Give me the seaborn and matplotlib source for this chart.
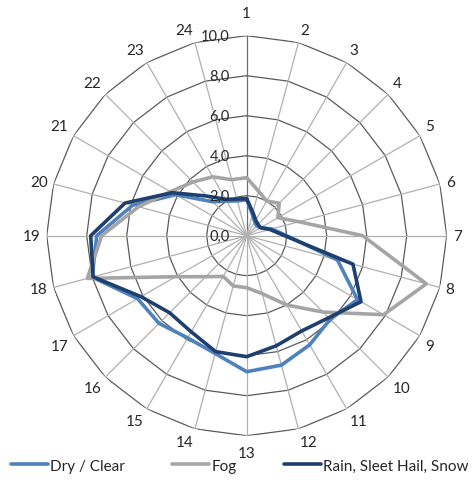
import numpy as np
import pandas as pd
import matplotlib
matplotlib.use("Agg")
import matplotlib.pyplot as plt
import matplotlib.transforms as mtransforms
import seaborn as sns

# hour of day (radar categories)
hours = [str(h) for h in range(1, 25)]

# share per hour
dry_clear = [1.8, 1.1, 0.8, 0.7, 0.8, 1.3, 2.0, 4.7, 6.4, 5.9, 6.3, 6.7,
             6.8, 6.1, 5.9, 6.2, 6.3, 8.0, 7.5, 5.9, 4.1, 2.4, 2.0, 1.8]
fog = [2.9, 2.3, 2.0, 2.3, 1.8, 2.7, 5.8, 9.3, 7.9, 5.4, 4.0, 3.0,
       2.6, 2.6, 2.35, 2.9, 4.1, 8.25, 7.25, 5.6, 4.4, 3.8, 3.4, 2.9]
rain = [1.85, 1.2, 0.9, 0.8, 0.8, 1.2, 1.9, 5.5, 6.6, 5.8, 5.5, 5.7,
        6.05, 6.0, 5.55, 5.45, 6.1, 7.95, 7.8, 6.3, 4.3, 2.8, 2.1, 1.9]

series_names = ["Dry / Clear", "Fog", "Rain, Sleet Hail, Snow"]
colors = ["#4f81bd", "#a5a5a5", "#1f3f6e"]
r_ticks = [0, 2, 4, 6, 8, 10]

sns.set_style("white")
plt.rcParams["font.family"] = ["Lato", "DejaVu Sans"]

n = len(hours)
theta = np.linspace(0, 2 * np.pi, n, endpoint=False)
theta_closed = np.append(theta, 2 * np.pi)

# long table, each series closed back to hour 1
rows = []
for name, vals in zip(series_names, [dry_clear, fog, rain]):
    vals_closed = list(vals) + [vals[0]]
    for t, v in zip(theta_closed, vals_closed):
        rows.append({"theta": t, "value": v, "series": name})
df = pd.DataFrame(rows)

fig = plt.figure(figsize=(4.72, 4.81), dpi=100)
cx, cy = 246.7 / 472, 1 - 236.7 / 481
rw, rh = 200 / 472, 200 / 481
ax = fig.add_axes([cx - rw, cy - rh, 2 * rw, 2 * rh], projection="polar")
ax.set_theta_offset(np.pi / 2)
ax.set_theta_direction(-1)
ax.set_ylim(0, 10)
ax.grid(False)
ax.spines["polar"].set_visible(False)

# polygon rings and spokes
for r in r_ticks[1:]:
    ax.plot(theta_closed, [r] * (n + 1), color="#5a5a5a", lw=0.9, zorder=1)
for i, t in enumerate(theta):
    ax.plot([t, t], [0, 10], color="#6e6e6e" if i == 0 else "#b0b0b0",
            lw=0.9, zorder=1)

sns.lineplot(data=df, x="theta", y="value", hue="series", palette=colors,
             hue_order=series_names, sort=False, estimator=None,
             linewidth=2.6, ax=ax, zorder=3)

ax.set_xticks([])
ax.set_yticks([])
ax.set_xlabel("")
ax.set_ylabel("")

# category labels sitting just outside each vertex, excel style
for i, (t, lab) in enumerate(zip(theta, hours)):
    s, c = np.sin(t), np.cos(t)
    gap = 16 if i == 0 else (10 if i == 12 else 6)
    ha = "left" if s > 0.1 else ("right" if s < -0.1 else "center")
    va = "bottom" if c > 0.4 else ("top" if c < -0.4 else "center")
    tr = mtransforms.offset_copy(ax.transData, fig=fig, x=gap * s, y=gap * c,
                                 units="dots")
    ax.text(t, 10, lab, transform=tr, ha=ha, va=va, fontsize=11,
            color="#262626", clip_on=False)

# value axis labels
off = mtransforms.offset_copy(ax.transData, fig=fig, x=-17, y=0, units="dots")
for r in r_ticks:
    ax.text(0, r, f"{r:.1f}".replace(".", ","), transform=off, ha="right",
            va="center", fontsize=10.5, color="#262626", zorder=4)

handles, labels = ax.get_legend_handles_labels()
ax.get_legend().remove()
for h in handles:
    h.set_linewidth(2.6)
fig.legend(handles, labels, loc="center", bbox_to_anchor=(0.508, 0.03), ncol=3,
           frameon=False, handlelength=2.4, handletextpad=0.15,
           columnspacing=3.1, fontsize=11, labelcolor="#262626")

fig.savefig("out.png", dpi=100)
